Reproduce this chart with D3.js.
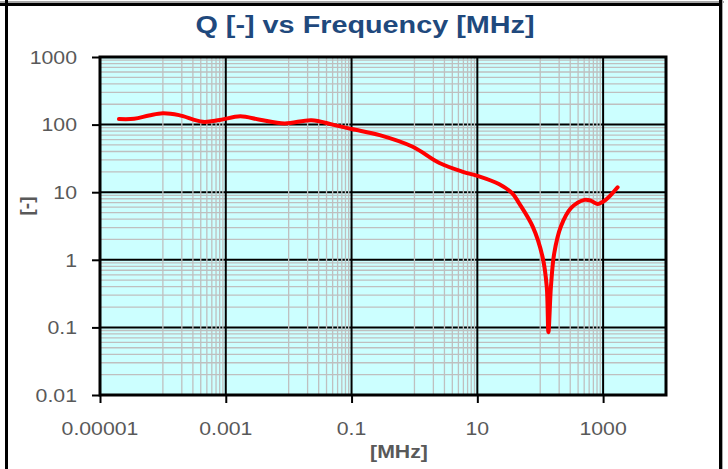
<!DOCTYPE html>
<html>
<head>
<meta charset="utf-8">
<script src="https://cdn.jsdelivr.net/npm/d3@7/dist/d3.min.js"></script>
<style>
  html, body { margin: 0; padding: 0; background: #ffffff; }
  svg { display: block; }
  text { font-family: "Liberation Sans", Arial, sans-serif; }
</style>
</head>
<body>
<svg id="chart" width="728" height="469"></svg>
<script>
// ---- data ----
const freqMHz = [2.0e-5, 3.5e-5, 6e-5, 1.0e-4, 1.8e-4, 4.3e-4, 8e-4, 1.7e-3, 3.5e-3, 8.6e-3,
                 2.3e-2, 5e-2, 0.1, 0.28, 0.94, 2.5, 5.9, 10, 22, 36, 46, 76, 109, 127, 135,
                 148, 167, 213, 308, 505, 637, 810, 1100, 1700];
const qValues = [121, 122, 136, 147, 138, 110, 117, 133, 118, 104,
                 116, 100, 86, 70, 47, 27, 20, 17.4, 13.2, 9.6, 6.9, 3.1, 1.1, 0.40, 0.085,
                 0.40, 1.25, 3.1, 5.8, 7.7, 7.5, 6.7, 7.7, 11.8];
const xMajorTicks = [1e-5, 1e-3, 1e-1, 10, 1000];
const xTickLabels = ["0.00001", "0.001", "0.1", "10", "1000"];
const yMajorTicks = [0.01, 0.1, 1, 10, 100, 1000];
const yTickLabels = ["0.01", "0.1", "1", "10", "100", "1000"];
const titleText = "Q [-] vs Frequency [MHz]";
const xAxisTitle = "[MHz]";
const yAxisTitle = "[-]";

(function () {
// ---- layout ----
const svg = d3.select("#chart");
const pL = 100, pR = 666, pT = 57, pB = 395;
const x = d3.scaleLog().domain([1e-5, 1e4]).range([pL, pR]);
const y = d3.scaleLog().domain([0.01, 1000]).range([pB, pT]);

// outer frame
svg.append("rect").attr("x", 0).attr("y", 1).attr("width", 724).attr("height", 2).attr("fill", "#a6a6a6");
svg.append("rect").attr("x", 0).attr("y", 3).attr("width", 722).attr("height", 3).attr("fill", "#000");
svg.append("rect").attr("x", 5).attr("y", 0).attr("width", 3).attr("height", 469).attr("fill", "#000");
svg.append("rect").attr("x", 719).attr("y", 0).attr("width", 3).attr("height", 469).attr("fill", "#000");
svg.append("rect").attr("x", 722).attr("y", 0).attr("width", 1).attr("height", 469).attr("fill", "#a6a6a6");

// plot background
svg.append("rect").attr("x", pL).attr("y", pT).attr("width", pR - pL).attr("height", pB - pT)
  .attr("fill", "#ccffff");

const grid = svg.append("g");

// horizontal minor gridlines
const yMinor = [];
for (let i = 0; i < yMajorTicks.length - 1; i++) {
  for (let k = 2; k <= 9; k++) yMinor.push(yMajorTicks[i] * k);
}
grid.selectAll(".hminor").data(yMinor).enter().append("line")
  .attr("x1", pL).attr("x2", pR)
  .attr("y1", d => y(d)).attr("y2", d => y(d))
  .attr("stroke", "#bfbfbf").attr("stroke-width", 1.3);

// horizontal major gridlines
grid.selectAll(".hmajor").data(yMajorTicks).enter().append("line")
  .attr("x1", pL).attr("x2", pR)
  .attr("y1", d => y(d)).attr("y2", d => y(d))
  .attr("stroke", "#000").attr("stroke-width", 2);

// vertical minor gridlines (upper decade of each 2-decade interval)
const xMinor = [];
for (let i = 0; i < xMajorTicks.length - 1; i++) {
  for (let k = 1; k <= 9; k++) xMinor.push(xMajorTicks[i] * 10 * k);
}
grid.selectAll(".vminor").data(xMinor).enter().append("line")
  .attr("x1", d => x(d)).attr("x2", d => x(d))
  .attr("y1", pT).attr("y2", pB)
  .attr("stroke", "#bfbfbf").attr("stroke-width", 1.3);

// vertical major gridlines
grid.selectAll(".vmajor").data(xMajorTicks).enter().append("line")
  .attr("x1", d => x(d)).attr("x2", d => x(d))
  .attr("y1", pT).attr("y2", pB)
  .attr("stroke", "#000").attr("stroke-width", 2);

// plot border
svg.append("rect").attr("x", pL).attr("y", pT).attr("width", pR - pL).attr("height", pB - pT)
  .attr("fill", "none").attr("stroke", "#000").attr("stroke-width", 3);

// axes tick marks via d3 axes
const xAxis = d3.axisBottom(x).tickValues(xMajorTicks).tickSize(8).tickFormat(() => "");
const yAxis = d3.axisLeft(y).tickValues(yMajorTicks).tickSize(8).tickFormat(() => "");
const gx = svg.append("g").attr("transform", `translate(0,${pB})`).call(xAxis);
const gy = svg.append("g").attr("transform", `translate(${pL},0)`).call(yAxis);
[gx, gy].forEach(g => {
  g.select(".domain").remove();
  g.selectAll(".tick line").attr("stroke", "#000").attr("stroke-width", 2);
});

// tick labels
svg.selectAll(".xlab").data(xMajorTicks).enter().append("text")
  .attr("transform", d => `translate(${x(d)},435) scale(1.12,1)`)
  .attr("text-anchor", "middle")
  .attr("font-size", 19).attr("fill", "#595959")
  .text((d, i) => xTickLabels[i]);

svg.selectAll(".ylab").data(yMajorTicks).enter().append("text")
  .attr("transform", d => `translate(77,${y(d) + 6.8}) scale(1.12,1)`)
  .attr("text-anchor", "end")
  .attr("font-size", 19).attr("fill", "#595959")
  .text((d, i) => yTickLabels[i]);

// title
svg.append("text")
  .attr("transform", "translate(365,33) scale(1.2,1)")
  .attr("text-anchor", "middle")
  .attr("font-size", 24).attr("font-weight", "bold").attr("fill", "#1f497d")
  .text(titleText);

// axis titles
svg.append("text")
  .attr("transform", "translate(399,458) scale(1.12,1)")
  .attr("text-anchor", "middle")
  .attr("font-size", 19).attr("font-weight", "bold").attr("fill", "#595959")
  .text(xAxisTitle);

svg.append("text")
  .attr("transform", "translate(33,206) rotate(-90)")
  .attr("text-anchor", "middle")
  .attr("font-size", 19).attr("font-weight", "bold").attr("fill", "#595959")
  .text(yAxisTitle);

// data line
const pts = freqMHz.map((f, i) => [f, qValues[i]]);
const line = d3.line().x(d => x(d[0])).y(d => y(d[1])).curve(d3.curveCatmullRom.alpha(0.5));
svg.append("path").datum(pts)
  .attr("d", line)
  .attr("fill", "none").attr("stroke", "#ff0000").attr("stroke-width", 4)
  .attr("stroke-linecap", "round").attr("stroke-linejoin", "round");
})();
</script>
</body>
</html>
